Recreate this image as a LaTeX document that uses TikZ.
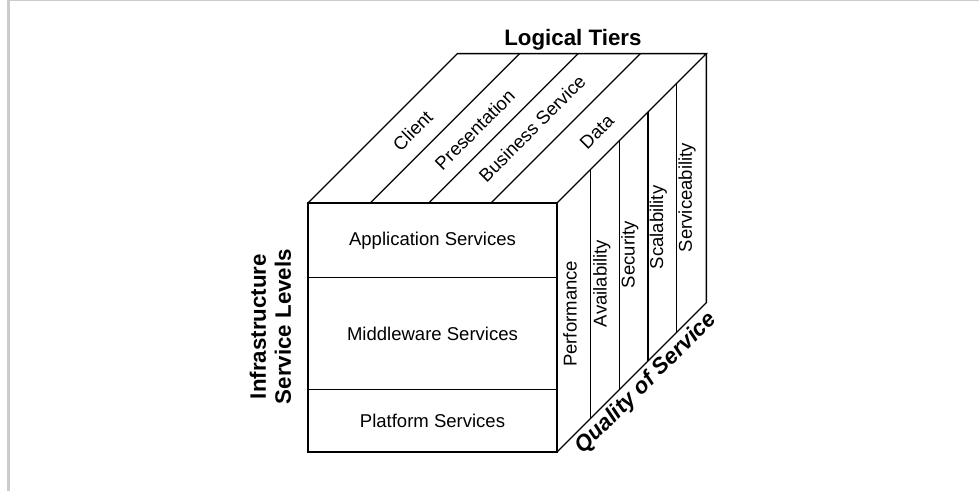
\documentclass[tikz,border=0pt]{standalone}
\usepackage{fontspec}
\setmainfont{Liberation Sans}

\tikzset{
  lbl/.style={font=\fontsize{12.7}{15}\selectfont, inner sep=0pt},
  tier/.style={lbl, rotate=45},
  qos/.style={lbl, rotate=90},
  head/.style={font=\fontsize{15.3}{17.2}\selectfont\bfseries, inner sep=0pt}
}

\begin{document}
\begin{tikzpicture}[scale=0.6, line width=0.9pt]
   \useasboundingbox (-12.369,-1.566) rectangle (26.948,18.153);
   % page frame
   \draw[line width=2pt, black!20] (-12.03,-1.566) -- (-12.03,18.153);
   \draw[line width=0.7pt, black!20] (-12.03,18.133) -- (26.948,18.133);

   % front face
   \draw (0,0) rectangle (10,10);
   \draw (0,2.5) -- (10,2.5);
   \draw (0,7) -- (10,7);

   % top face
   \draw (0,10) -- (6,16) -- (16,16) -- (10,10);
   \foreach \x in {2.5,4.85,7.35}
      \draw (\x,10) -- ++(6,6);

   % right face
   \draw (10,0) -- (16,6) -- (16,16);
   \foreach \u in {1.35,2.5,3.65,4.8}
      \draw (10+\u,\u) -- (10+\u,10+\u);

   % front labels
   \node[lbl] (app) at (5,8.5) {Application Services};
   \node[lbl] (mid) at (5,4.75) {Middleware Services};
   \node[lbl] (plat) at (5,1.25) {Platform Services};

   % top labels
   \node[tier] (client) at (4.2,12.9) {Client};
   \node[tier] (pres) at (6.7,12.95) {Presentation};
   \node[tier] (busi) at (9.0,13) {Business Service};
   \node[tier] (data) at (11.6,12.85) {Data};

   % right labels
   \node[qos] (perf) at (10.52,5.55) {Performance};
   \node[qos] (avail) at (11.8,6.77) {Availability};
   \node[qos] (secu) at (12.93,7.93) {Security};
   \node[qos] (scal) at (14.07,9.02) {Scalability};
   \node[qos] (serv) at (15.22,10.22) {Serviceability};

   % axis titles
   \node[head, anchor=base] (tiers) at (10.64,16.31) {Logical Tiers};
   \node[head, rotate=90, align=center] (levels) at (-1.51,5.04) {Infrastructure\\Service Levels};
   \node[head, rotate=45, anchor=north] (quality) at (13.27,3.07) {\itshape Quality of Service};
\end{tikzpicture}
\end{document}
